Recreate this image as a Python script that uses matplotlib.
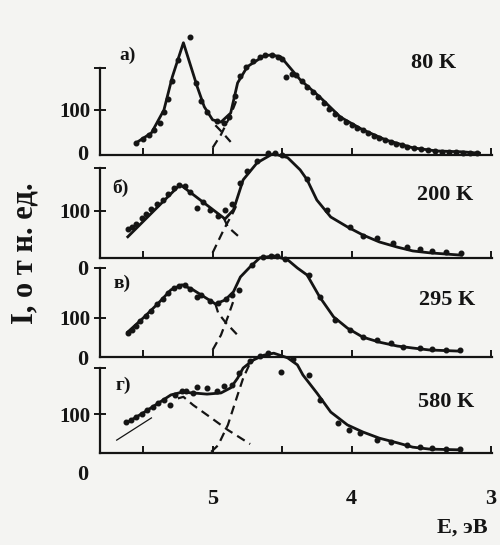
import matplotlib
matplotlib.use("Agg")
import matplotlib.pyplot as plt
import matplotlib.transforms as mtransforms

plt.rcParams['font.family'] = ['Liberation Serif', 'DejaVu Serif']
plt.rcParams['font.weight'] = 'bold'

W, H = 500, 545
XLIM = (5.81, 2.99)
XTICKS = [5.5, 5.0, 4.5, 4.0, 3.0]
XTICKLABELS = ['', '5', '', '4', '3']

panel_letters = ['а)', 'б)', 'в)', 'г)']
temps = ['80 K', '200 K', '295 K', '580 K']

# --- panel a (80 K) ---
a_fit_E = [5.55, 5.44, 5.35, 5.29, 5.21, 5.11, 5.06, 5.00, 4.94, 4.87, 4.82, 4.75, 4.63, 4.58, 4.51,
           4.37, 4.23, 4.08, 3.92, 3.75, 3.56, 3.39, 3.20, 3.08]
a_fit_I = [27, 49, 100, 173, 249, 151, 107, 78, 73, 93, 160, 196, 220, 222, 218,
           167, 129, 84, 56, 33, 16, 9, 7, 4]
a_n_E = [4.98, 4.93, 4.87]
a_n_I = [66, 50, 29]
a_b_E = [5.00, 4.94, 4.87, 4.83]
a_b_I = [16, 45, 89, 120]
a_dot_E = [5.55, 5.50, 5.46, 5.42, 5.38, 5.35, 5.32, 5.29, 5.25, 5.165, 5.12, 5.08, 5.04, 4.97, 4.92,
           4.88, 4.84, 4.80, 4.76, 4.71, 4.66, 4.62, 4.57, 4.53, 4.50, 4.47, 4.43, 4.40, 4.36, 4.32,
           4.28, 4.24, 4.20, 4.16, 4.12, 4.08, 4.04, 4.00, 3.96, 3.92, 3.88, 3.84, 3.80, 3.76, 3.72,
           3.68, 3.64, 3.60, 3.55, 3.50, 3.45, 3.40, 3.35, 3.30, 3.25, 3.20, 3.15, 3.10]
a_dot_I = [27, 36, 45, 55, 70, 95, 125, 165, 210, 262, 160, 120, 95, 75, 72,
           85, 130, 175, 195, 208, 218, 221, 222, 218, 213, 173, 180, 178, 165, 150,
           140, 128, 115, 102, 92, 82, 74, 66, 60, 55, 48, 43, 38, 34, 29,
           25, 22, 18, 15, 13, 11, 9, 7, 6, 6, 5, 5, 4]

# --- panel b (200 K) ---
b_fit_E = [5.61, 5.25, 5.23, 4.92, 4.91, 4.85, 4.78, 4.68, 4.58, 4.56, 4.46, 4.37, 4.32, 4.25,
           4.15, 4.03, 3.92, 3.80, 3.67, 3.56, 3.44, 3.21]
b_fit_I = [45, 151, 155, 85, 83, 102, 166, 202, 219, 221, 213, 187, 166, 123,
           87, 66, 49, 34, 23, 15, 11, 6]
b_n_E = [4.92, 4.89, 4.81]
b_n_I = [85, 66, 45]
b_b_E = [5.00, 4.92, 4.85, 4.82]
b_b_I = [11, 60, 98, 117]
b_dot_E = [5.61, 5.58, 5.55, 5.51, 5.48, 5.44, 5.40, 5.36, 5.32, 5.28, 5.24, 5.20, 5.16, 5.11,
           5.07, 5.02, 4.96, 4.91, 4.86, 4.80, 4.75, 4.68, 4.60, 4.55, 4.50, 4.32, 4.18, 4.01,
           3.92, 3.82, 3.70, 3.60, 3.51, 3.42, 3.32, 3.21]
b_dot_I = [62, 66, 72, 85, 93, 104, 115, 124, 135, 148, 155, 152, 140, 106,
           118, 102, 90, 102, 115, 160, 185, 205, 222, 222, 218, 168, 102, 66,
           47, 43, 32, 23, 19, 15, 13, 11]

# --- panel c (295 K) ---
c_fit_E = [5.61, 5.49, 5.39, 5.30, 5.22, 5.14, 5.06, 4.98, 4.91, 4.85, 4.80, 4.73, 4.66, 4.56,
           4.46, 4.39, 4.32, 4.23, 4.13, 4.03, 3.92, 3.80, 3.67, 3.56, 3.44, 3.22]
c_fit_I = [64, 103, 138, 172, 185, 172, 154, 136, 146, 167, 205, 231, 254, 259,
           249, 228, 210, 154, 103, 74, 51, 38, 28, 23, 18, 15]
c_n_E = [4.98, 4.96, 4.91, 4.82]
c_n_I = [136, 113, 90, 56]
c_b_E = [5.00, 4.94, 4.89, 4.84]
c_b_I = [18, 56, 103, 154]
c_dot_E = [5.61, 5.58, 5.55, 5.52, 5.48, 5.44, 5.40, 5.36, 5.32, 5.28, 5.24, 5.20, 5.16, 5.11,
           5.08, 5.02, 4.96, 4.90, 4.86, 4.81, 4.72, 4.64, 4.58, 4.54, 4.48, 4.31, 4.23, 4.12,
           4.01, 3.92, 3.82, 3.72, 3.63, 3.51, 3.42, 3.32, 3.22]
c_dot_I = [62, 70, 80, 92, 105, 118, 135, 148, 165, 178, 183, 185, 175, 154,
           158, 143, 138, 148, 160, 172, 235, 255, 258, 258, 250, 210, 154, 95,
           69, 51, 44, 36, 26, 23, 21, 18, 18]

# --- panel d (580 K) ---
d_fit_E = [5.61, 5.49, 5.39, 5.30, 5.22, 5.14, 5.04, 4.94, 4.87, 4.82, 4.78, 4.71, 4.63, 4.56,
           4.46, 4.39, 4.35, 4.25, 4.15, 4.03, 3.92, 3.80, 3.67, 3.56, 3.44, 3.21]
d_fit_I = [79, 105, 128, 149, 156, 154, 151, 154, 167, 192, 218, 238, 251, 256,
           244, 226, 200, 154, 105, 72, 54, 38, 26, 15, 10, 8]
d_thin_E = [5.69, 5.44]
d_thin_I = [33, 90]
d_n_E = [5.25, 5.21, 5.14, 5.01, 4.89, 4.73]
d_n_I = [140, 144, 123, 90, 59, 23]
d_b_E = [5.01, 4.96, 4.89, 4.82, 4.78, 4.73, 4.70]
d_b_I = [3, 20, 72, 149, 192, 231, 240]
d_dot_E = [5.62, 5.59, 5.55, 5.51, 5.47, 5.43, 5.39, 5.35, 5.31, 5.27, 5.22, 5.19, 5.14, 5.11,
           5.04, 4.97, 4.92, 4.86, 4.81, 4.73, 4.66, 4.60, 4.51, 4.42, 4.31, 4.23, 4.10, 4.02,
           3.94, 3.82, 3.72, 3.60, 3.51, 3.42, 3.32, 3.22]
d_dot_I = [80, 84, 92, 100, 110, 118, 128, 137, 123, 150, 158, 160, 155, 169,
           167, 160, 172, 175, 205, 235, 250, 256, 208, 240, 200, 136, 77, 59,
           51, 33, 28, 21, 15, 13, 10, 10]

# pixel layout for each panel
layout = [
    dict(base=155, top=68, ymax=193, zero=0, letter=(128, 55), temp=(434, 63)),
    dict(base=258, top=168, ymax=191, zero=-26, letter=(120, 188), temp=(445, 195)),
    dict(base=357, top=268, ymax=228, zero=-8, letter=(122, 283), temp=(447, 300)),
    dict(base=453, top=368, ymax=218, zero=-56, letter=(123, 385), temp=(446, 402)),
]

panels = [
    (a_fit_E, a_fit_I, [(a_n_E, a_n_I), (a_b_E, a_b_I)], None, a_dot_E, a_dot_I),
    (b_fit_E, b_fit_I, [(b_n_E, b_n_I), (b_b_E, b_b_I)], None, b_dot_E, b_dot_I),
    (c_fit_E, c_fit_I, [(c_n_E, c_n_I), (c_b_E, c_b_I)], None, c_dot_E, c_dot_I),
    (d_fit_E, d_fit_I, [(d_n_E, d_n_I), (d_b_E, d_b_I)], (d_thin_E, d_thin_I), d_dot_E, d_dot_I),
]

BG = '#f4f4f2'
INK = '#141414'
fig = plt.figure(figsize=(W / 100, H / 100), dpi=100, facecolor=BG)

for i, (lay, pan) in enumerate(zip(layout, panels)):
    fitE, fitI, comps, thin, dE, dI = pan
    left = 100 / W
    width = 392 / W
    bottom = 1 - lay['base'] / H
    height = (lay['base'] - lay['top']) / H
    ax = fig.add_axes([left, bottom, width, height])
    ax.patch.set_visible(False)
    ax.set_xlim(*XLIM)
    ax.set_ylim(0, lay['ymax'])
    for s in ['top', 'right']:
        ax.spines[s].set_visible(False)
    for s in ['left', 'bottom']:
        ax.spines[s].set_linewidth(1.6)
        ax.spines[s].set_color(INK)
    ax.plot(fitE, fitI, color=INK, lw=2.0, clip_on=False, zorder=3, solid_joinstyle='round')
    for cE, cI in comps:
        ax.plot(cE, cI, color=INK, lw=1.6, ls=(0, (4, 2.5)), clip_on=False, zorder=3)
    if thin is not None:
        ax.plot(thin[0], thin[1], color=INK, lw=0.9, clip_on=False, zorder=3)
    ax.plot(dE, dI, 'o', color=INK, ms=3.3, clip_on=False, zorder=4)

    ax.set_xticks(XTICKS)
    ax.tick_params(axis='x', direction='in', length=5, width=1.4, color=INK)
    if i == 3:
        ax.set_xticklabels(XTICKLABELS, fontsize=16, fontweight='bold', color=INK)
        ax.tick_params(axis='x', pad=26)
    else:
        ax.set_xticklabels([])
    ax.set_yticks([100, lay['ymax']])
    ax.set_yticklabels(['100', ''], fontsize=15, fontweight='bold', color=INK)
    ax.tick_params(axis='y', direction='inout', length=8, width=1.4, color=INK, pad=3)

    trans = mtransforms.blended_transform_factory(ax.transAxes, ax.transData)
    ax.text(-0.03, lay['zero'], '0', transform=trans, ha='right', va='center',
            fontsize=16, fontweight='bold', color=INK)

    lx, ly = lay['letter']
    fig.text(lx / W, 1 - ly / H, panel_letters[i], ha='center', va='center',
             fontsize=14, fontweight='bold', color=INK)
    tx, ty = lay['temp']
    fig.text(tx / W, 1 - ty / H, temps[i], ha='center', va='center',
             fontsize=16, fontweight='bold', color=INK)

fig.text(25 / W, 1 - 253 / H, 'I, о т н. ед.', rotation=90, ha='center', va='center',
         fontsize=22, fontweight='bold', color=INK)
fig.text(462 / W, 1 - 528 / H, 'E, эВ', ha='center', va='center',
         fontsize=16, fontweight='bold', color=INK)

fig.savefig('out.png', dpi=100, facecolor=BG)
